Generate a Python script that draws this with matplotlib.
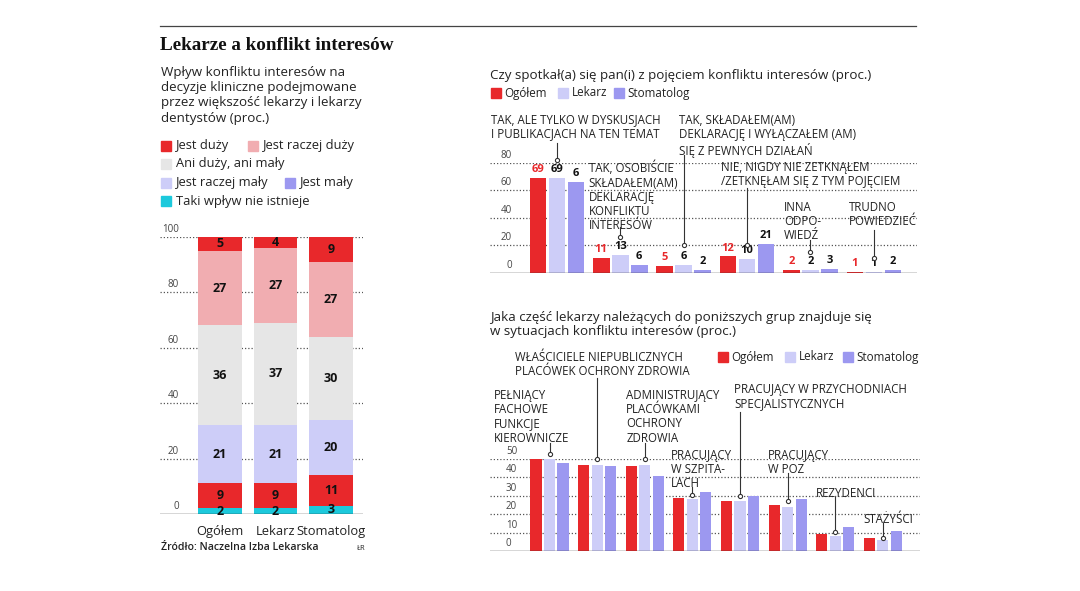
import matplotlib
matplotlib.use("Agg")
import matplotlib.pyplot as plt
from matplotlib.patches import Rectangle
from matplotlib.lines import Line2D
import numpy as np

plt.rcParams['font.family'] = ['Open Sans', 'DejaVu Sans']

# ---------------- DATA ----------------
stack_categories = ['Ogółem', 'Lekarz', 'Stomatolog']
# bottom -> top
stack_names = ['Taki wpływ nie istnieje', 'Jest mały', 'Jest raczej mały',
               'Ani duży, ani mały', 'Jest raczej duży', 'Jest duży']
stack_nie_istnieje = [2, 2, 3]
stack_maly = [9, 9, 11]
stack_raczej_maly = [21, 21, 20]
stack_ani = [36, 37, 30]
stack_raczej_duzy = [27, 27, 27]
stack_duzy = [5, 4, 9]

q1_answers = ['TAK, ALE TYLKO W DYSKUSJACH\nI PUBLIKACJACH NA TEN TEMAT',
              'TAK, OSOBIŚCIE\nSKŁADAŁEM(AM)\nDEKLARACJĘ\nKONFLIKTU\nINTERESÓW',
              'TAK, SKŁADAŁEM(AM)\nDEKLARACJĘ I WYŁĄCZAŁEM (AM)\nSIĘ Z PEWNYCH DZIAŁAŃ',
              'NIE, NIGDY NIE ZETKNĄŁEM\n/ZETKNĘŁAM SIĘ Z TYM POJĘCIEM',
              'INNA\nODPO-\nWIEDŹ',
              'TRUDNO\nPOWIEDZIEĆ']
q1_ogolem = [69, 11, 5, 12, 2, 1]
q1_lekarz = [69, 13, 6, 10, 2, 1]
q1_stomatolog = [66, 6, 2, 21, 3, 2]
q1_stomatolog_labels = ['6', '6', '2', '21', '3', '2']

q2_groups = ['PEŁNIĄCY\nFACHOWE\nFUNKCJE\nKIEROWNICZE',
             'WŁAŚCICIELE NIEPUBLICZNYCH\nPLACÓWEK OCHRONY ZDROWIA',
             'ADMINISTRUJĄCY\nPLACÓWKAMI\nOCHRONY\nZDROWIA',
             'PRACUJĄCY\nW SZPITA-\nLACH',
             'PRACUJĄCY W PRZYCHODNIACH\nSPECJALISTYCZNYCH',
             'PRACUJĄCY\nW POZ',
             'REZYDENCI',
             'STAŻYŚCI']
q2_ogolem = [50, 47, 46, 29, 27, 25, 9, 7]
q2_lekarz = [50, 47, 47, 28, 27, 24, 8, 6]
q2_stomatolog = [48, 46, 41, 32, 30, 28, 13, 11]

# ---------------- STYLE ----------------
RED = '#e8282b'
PINK = '#f1adb1'
GREY = '#e6e6e6'
LAV = '#cdcdf8'
PURPLE = '#9c98f0'
CYAN = '#1cc9dc'
DARK = '#222222'
GRID = '#555555'

W, H = 1080, 591
fig = plt.figure(figsize=(W / 100, H / 100), dpi=100)


def fx(x):
    return x / W


def fy(y):
    return 1 - y / H


def px_axes(l, t, r, b):
    return fig.add_axes([fx(l), fy(b), (r - l) / W, (b - t) / H])


def legend_item(x, y, color, label, size=9.3, gap=14.5):
    fig.patches.append(Rectangle((fx(x), fy(y + 5)), 10 / W, 10 / H,
                                 transform=fig.transFigure, color=color))
    fig.text(fx(x + gap), fy(y), label, fontsize=size, va='center', ha='left', color=DARK)


# top rule and title
fig.add_artist(Line2D([fx(160), fx(916)], [fy(25.5), fy(25.5)], color='#444444', lw=0.9))
fig.text(fx(160), fy(46), 'Lekarze a konflikt interesów', fontsize=13.8, fontweight='bold',
         family='Liberation Serif', va='center', ha='left', color='#111111')

# left subtitle
fig.text(fx(161), fy(66), 'Wpływ konfliktu interesów na\ndecyzje kliniczne podejmowane\n'
         'przez większość lekarzy i lekarzy\ndentystów (proc.)',
         fontsize=9.6, va='top', ha='left', color=DARK, linespacing=1.22)

# left legend
legend_item(161, 146, RED, 'Jest duży')
legend_item(248, 146, PINK, 'Jest raczej duży')
legend_item(161, 164, GREY, 'Ani duży, ani mały')
legend_item(161, 183, LAV, 'Jest raczej mały')
legend_item(285, 183, PURPLE, 'Jest mały')
legend_item(161, 201, CYAN, 'Taki wpływ nie istnieje')


def style_axes(ax, ticks, xl, dx, ha):
    for s in ax.spines.values():
        s.set_visible(False)
    ax.set_xticks([])
    ax.set_yticks([])
    for t in ticks:
        if t == 0:
            ax.axhline(0, color='#333333', lw=1.0, zorder=3)
        else:
            ax.axhline(t, color=GRID, lw=0.9, ls=(0, (1, 1.6)), zorder=0)
        ax.annotate(str(t), (xl, t), xytext=(dx, 2), textcoords='offset pixels',
                    fontsize=7, color='#444444', ha=ha, va='bottom', annotation_clip=False)


# ---------------- LEFT STACKED ----------------
ax1 = px_axes(160, 236.7, 363, 514)
x1 = np.arange(len(stack_categories))
ax1.set_xlim(-1.081, 2.577)
ax1.set_ylim(0, 100)
style_axes(ax1, [0, 20, 40, 60, 80, 100], -1.081, 19, 'right')
segments = [stack_nie_istnieje, stack_maly, stack_raczej_maly, stack_ani, stack_raczej_duzy, stack_duzy]
seg_colors = [CYAN, RED, LAV, GREY, PINK, RED]
bottom = np.zeros(len(stack_categories))
for vals, col in zip(segments, seg_colors):
    vals = np.array(vals, dtype=float)
    ax1.bar(x1, vals, bottom=bottom, width=0.79, color=col, zorder=2, linewidth=0)
    for xi, b, v in zip(x1, bottom, vals):
        ax1.text(xi, b + v / 2, f'{int(v)}', ha='center', va='center', fontsize=9,
                 fontweight='bold', color='#111111', zorder=4)
    bottom += vals
for xi, c in zip(x1, stack_categories):
    ax1.annotate(c, (xi, 0), xytext=(0, -8), textcoords='offset points', ha='center', va='top',
                 fontsize=9.3, color=DARK, annotation_clip=False)

fig.text(fx(161), fy(548), 'Źródło: Naczelna Izba Lekarska', fontsize=7.6, fontweight='semibold',
         va='center', ha='left', color=DARK)
fig.text(fx(357), fy(549), 'ŁR', fontsize=5.5, va='center', ha='left', color=DARK)

# ---------------- TOP RIGHT ----------------
fig.text(fx(490), fy(75), 'Czy spotkał(a) się pan(i) z pojęciem konfliktu interesów (proc.)',
         fontsize=9.6, va='center', ha='left', color=DARK)
legend_item(491, 93, RED, 'Ogółem', 8.4, 13.5)
legend_item(558, 93, LAV, 'Lekarz', 8.4, 13.5)
legend_item(614, 93, PURPLE, 'Stomatolog', 8.4, 13.5)

ax2 = px_axes(490, 163, 917, 273)
x2 = np.arange(len(q1_answers))
ax2.set_xlim(-1.055, 5.68)
ax2.set_ylim(0, 80)
style_axes(ax2, [0, 20, 40, 60, 80], -1.055, 22, 'right')
bw2, off2 = 0.262, 0.300
series2 = [(q1_ogolem, RED, [str(v) for v in q1_ogolem], RED),
           (q1_lekarz, LAV, [str(v) for v in q1_lekarz], '#111111'),
           (q1_stomatolog, PURPLE, q1_stomatolog_labels, '#111111')]
for k, (vals, col, labs, tcol) in enumerate(series2):
    xs = x2 + (k - 1) * off2
    ax2.bar(xs, vals, width=bw2, color=col, zorder=2, linewidth=0)
    for xi, v, lab in zip(xs, vals, labs):
        ax2.annotate(lab, (xi, v), xytext=(0, 2), textcoords='offset points', ha='center',
                     va='bottom', fontsize=8, fontweight='bold', color=tcol, annotation_clip=False)

q1_text_pos = [(-1.04, 116.4), (0.50, 81.5), (1.92, 115.6), (2.59, 81.5), (3.58, 52.4), (4.60, 52.4)]
q1_leaders = [(0, 94.5, 82), (1, 33.7, 26), (2, 85.8, 20.4), (3, 61.8, 20.4), (4, 24, 15.3), (5, 31.3, 10.9)]


def leaders(ax, texts, tpos, lds):
    for txt, (tx, ty), (lx, y0, y1) in zip(texts, tpos, lds):
        ax.text(tx, ty, txt, ha='left', va='top', fontsize=8.3, color=DARK,
                linespacing=1.12, clip_on=False)
        ax.plot([lx, lx], [y0, y1], color='#333333', lw=0.8, clip_on=False, zorder=5)
        ax.plot([lx], [y1], marker='o', ms=3, mfc='white', mec='#333333', mew=0.8,
                clip_on=False, zorder=6)


leaders(ax2, q1_answers, q1_text_pos, q1_leaders)

# ---------------- BOTTOM RIGHT ----------------
fig.text(fx(490), fy(311), 'Jaka część lekarzy należących do poniższych grup znajduje się\n'
         'w sytuacjach konfliktu interesów (proc.)',
         fontsize=9.6, va='top', ha='left', color=DARK, linespacing=1.15)
legend_item(718, 357, RED, 'Ogółem', 8.4, 13.5)
legend_item(785, 357, LAV, 'Lekarz', 8.4, 13.5)
legend_item(843, 357, PURPLE, 'Stomatolog', 8.4, 13.5)

ax3 = px_axes(490, 459, 920, 551)
x3 = np.arange(len(q2_groups))
ax3.set_xlim(-1.25, 7.78)
ax3.set_ylim(0, 50)
style_axes(ax3, [0, 10, 20, 30, 40, 50], -1.25, 16, 'left')
bw3, off3 = 0.235, 0.283
for k, (vals, col) in enumerate([(q2_ogolem, RED), (q2_lekarz, LAV), (q2_stomatolog, PURPLE)]):
    ax3.bar(x3 + (k - 1) * off3, vals, width=bw3, color=col, zorder=2, linewidth=0)

q2_text_pos = [(-1.17, 88), (-0.73, 108.7), (1.61, 88), (2.55, 55.4), (3.88, 91.3),
               (4.59, 55.4), (5.60, 34.8), (6.59, 20.7)]
q2_leaders = [(0, 58.7, 52.7), (1, 94, 50), (2, 58.7, 50), (3, 34.8, 30.4), (4, 75.5, 29.9),
              (5, 42.4, 27.2), (6, 29.3, 10.3), (7, 15.2, 7.1)]
leaders(ax3, q2_groups, q2_text_pos, q2_leaders)

fig.savefig('out.png', dpi=100)
